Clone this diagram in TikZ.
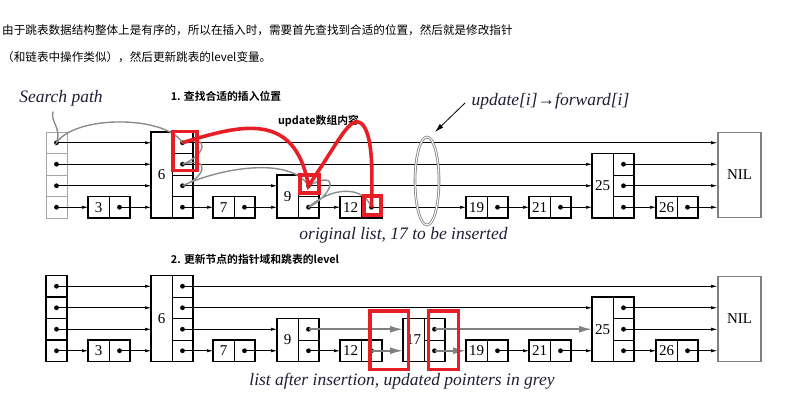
\documentclass[tikz,border=0pt]{standalone}
\usepackage{fontspec}
\setmainfont{Liberation Serif}
\newfontfamily\cjk{Noto Sans CJK SC}[BoldFont={Noto Sans CJK SC Bold}]
\usetikzlibrary{arrows.meta}
\definecolor{markred}{RGB}{232,30,38}
\definecolor{pathgrey}{RGB}{140,140,140}
\definecolor{captext}{RGB}{30,30,55}

% one skip list node: name, left x, bottom y, levels, key
\newcommand{\sknode}[5]{%
  \draw[cell] ({#2+21},#3) -- ++(0,{-#4*21.5});
  \ifnum#4>1
    \foreach \k in {2,...,#4}
      \draw[cell] ({#2+21},{#3-(\k-1)*21.5}) -- ++(21,0);
  \fi
  \draw[box] (#2,#3) rectangle ++(42,{-#4*21.5});
  \foreach \k in {1,...,#4}{
    \coordinate (#1-p\k) at ({#2+31.5},{#3-(\k-0.5)*21.5});
    \coordinate (#1-in\k) at (#2,{#3-(\k-0.5)*21.5});
    \fill (#1-p\k) circle[radius=2.4pt];
  }
  \node[key] (#1) at ({#2+10.5},{#3-#4*10.75}) {#5};
}
% list head: name, left x, bottom y, style
\newcommand{\skhead}[4]{%
  \foreach \k in {1,...,4}{
    \draw[#4] (#2,{#3-(\k-1)*21.5}) rectangle ++(21,-21.5);
    \coordinate (#1-p\k) at ({#2+10.5},{#3-(\k-0.5)*21.5});
    \fill (#1-p\k) circle[radius=2.4pt];
  }
}

\begin{document}
\begin{tikzpicture}[x=1pt, y=-1pt,
   box/.style={line width=1.4pt},
   cell/.style={line width=0.7pt},
   hdgrey/.style={draw=gray!70, line width=0.7pt},
   key/.style={inner sep=0pt, font=\fontsize{15}{15}\selectfont},
   nilbox/.style={draw=gray, line width=1.6pt, minimum width=43pt, minimum height=85pt, font=\fontsize{15}{15}\selectfont},
   ptr/.style={line width=0.6pt, -{Latex[length=6pt,width=3.2pt]}},
   gptr/.style={draw=gray, line width=1.7pt, -{Latex[length=13pt,width=7pt]}},
   gpath/.style={draw=pathgrey, line width=1.4pt},
   redmark/.style={draw=markred, line width=3.6pt},
   captxt/.style={font=\itshape\fontsize{17.5}{20}\selectfont, text=captext},
   cn/.style={font=\cjk\fontsize{11.6}{14}\selectfont, text=black, inner sep=0pt},
   cnb/.style={font=\cjk\bfseries\fontsize{10.8}{13}\selectfont, inner sep=0pt}]
   \useasboundingbox (0,0) rectangle (786,413);

   % intro text
   \node[cn, anchor=west] (intro1) at (2,30) {由于跳表数据结构整体上是有序的，所以在插入时，需要首先查找到合适的位置，然后就是修改指针};
   \node[cn, anchor=west] (intro2) at (2,57) {（和链表中操作类似），然后更新跳表的level变量。};

   % original list
   \skhead{thd}{46}{218}{hdgrey}
   \sknode{t3}{88}{218}{1}{3}
   \sknode{t6}{151}{218}{4}{6}
   \sknode{t7}{213}{218}{1}{7}
   \sknode{t9}{277}{218}{2}{9}
   \sknode{t12}{340}{218}{1}{12}
   \sknode{t19}{466}{218}{1}{19}
   \sknode{t21}{529}{218}{1}{21}
   \sknode{t25}{592}{218}{3}{25}
   \sknode{t26}{656}{218}{1}{26}
   \node[nilbox] (tnil) at (739.5,175) {NIL};

   \foreach \a/\b in {thd/t3, t3/t6, t6/t7, t7/t9, t9/t12, t12/t19, t19/t21, t21/t25, t25/t26}
      \draw[ptr] (\a-p1) -- (\b-in1);
   \foreach \a/\b in {thd/t6, t6/t9, t9/t25}
      \draw[ptr] (\a-p2) -- (\b-in2);
   \foreach \a/\b in {thd/t6, t6/t25}
      \draw[ptr] (\a-p3) -- (\b-in3);
   \draw[ptr] (thd-p4) -- (t6-in4);
   \draw[ptr] (t26-p1) -- (t26-p1 -| tnil.west);
   \draw[ptr] (t25-p2) -- (t25-p2 -| tnil.west);
   \draw[ptr] (t25-p3) -- (t25-p3 -| tnil.west);
   \draw[ptr] (t6-p4) -- (t6-p4 -| tnil.west);

   % search path
   \node[captxt] (search) at (61,98) {Search path};
   \draw[gpath] ([xshift=-8pt,yshift=-2pt]search.south) .. controls (50,122) and (62,128) .. (thd-p4)
      .. controls (75,115) and (165,115) .. (t6-p4)
      .. controls (212,134) and (205,156) .. (t6-p3)
      .. controls (212,156) and (205,178) .. (t6-p2)
      .. controls (220,168) and (290,156) .. (t9-p2)
      .. controls (342,168) and (332,196) .. (t9-p1)
      .. controls (330,188) and (362,184) .. (t12-p1);

   % update[i] -> forward[i]
   \draw[draw=gray, double=white, double distance=1pt, line width=0.8pt] (427,181) coordinate (cut) ellipse [x radius=12pt, y radius=44pt];
   \node[captxt, anchor=west] (fwd) at (468,101.5) {update[i]→forward[i]};
   \coordinate (cuttop) at (435,132);
   \draw[line width=0.8pt, -{Latex[length=9pt,width=5pt]}] ([shift={(-3pt,-1.5pt)}]fwd.west) -- (cuttop);
   \node[captxt] (orig) at (403.5,235) {original list, 17 to be inserted};

   % update array
   \node[cnb] (step1) at (226,96) {1. 查找合适的插入位置};
   \node[cnb] (updlbl) at (318.5,120.7) {update数组内容};
   \draw[redmark] (173,131.5) rectangle (197,170.5);
   \draw[redmark] (300,175) rectangle (319,193);
   \draw[redmark] (364,196) rectangle (381,215);
   \draw[redmark] (t6-p4) .. controls (240,125) and (295,110) .. (t9-p2)
      .. controls (340,140) and (350,114) .. (362,124)
      .. controls (374,136) and (372,180) .. (t12-p1);

   % list after insertion
   \node[cnb] (step2) at (255,259) {2. 更新节点的指针域和跳表的level};
   \skhead{bhd}{46}{361.5}{box}
   \sknode{b3}{88}{361.5}{1}{3}
   \sknode{b6}{151}{361.5}{4}{6}
   \sknode{b7}{213}{361.5}{1}{7}
   \sknode{b9}{277}{361.5}{2}{9}
   \sknode{b12}{340}{361.5}{1}{12}
   \sknode{b17}{403}{361.5}{2}{17}
   \sknode{b19}{466}{361.5}{1}{19}
   \sknode{b21}{529}{361.5}{1}{21}
   \sknode{b25}{592}{361.5}{3}{25}
   \sknode{b26}{656}{361.5}{1}{26}
   \node[nilbox] (bnil) at (739.5,319) {NIL};

   \foreach \a/\b in {bhd/b3, b3/b6, b6/b7, b7/b9, b9/b12, b19/b21, b21/b25, b25/b26}
      \draw[ptr] (\a-p1) -- (\b-in1);
   \foreach \a/\b in {bhd/b6, b6/b9}
      \draw[ptr] (\a-p2) -- (\b-in2);
   \foreach \a/\b in {bhd/b6, b6/b25}
      \draw[ptr] (\a-p3) -- (\b-in3);
   \draw[ptr] (bhd-p4) -- (b6-in4);
   \draw[ptr] (b26-p1) -- (b26-p1 -| bnil.west);
   \draw[ptr] (b25-p2) -- (b25-p2 -| bnil.west);
   \draw[ptr] (b25-p3) -- (b25-p3 -| bnil.west);
   \draw[ptr] (b6-p4) -- (b6-p4 -| bnil.west);
   % updated pointers
   \draw[gptr] (b12-p1) -- (b17-in1);
   \draw[gptr] (b17-p1) -- (b19-in1);
   \draw[gptr] (b9-p2) -- (b17-in2);
   \draw[gptr] (b17-p2) -- (b25-in2);
   \draw[redmark] (370,310.7) rectangle (408.5,369.3);
   \draw[redmark] (428.3,310.7) rectangle (458.3,369.3);
   \node[captxt] (after) at (402,381.5) {list after insertion, updated pointers in grey};
\end{tikzpicture}
\end{document}
